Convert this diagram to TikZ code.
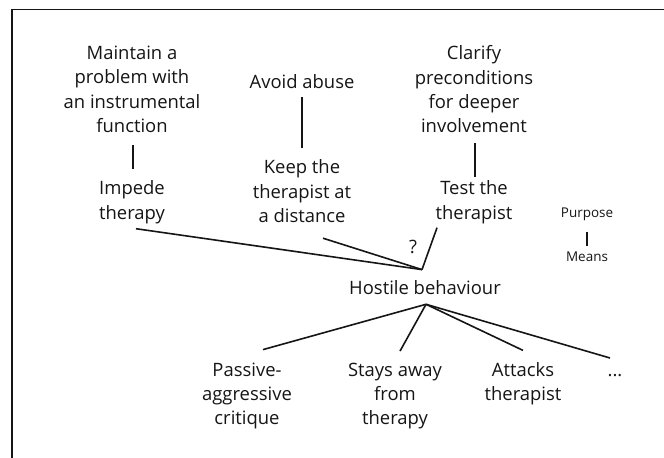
\documentclass[tikz,border=0pt]{standalone}
\usepackage{fontspec}
\setmainfont{Open Sans}
\usetikzlibrary{calc}
\definecolor{ink}{HTML}{151515}
\tikzset{
  lbl/.style={inner sep=0pt, outer sep=0pt, align=center, text=ink,
    font=\fontsize{18.5}{24.5}\selectfont},
  small/.style={inner sep=0pt, outer sep=0pt, align=center, text=ink,
    font=\fontsize{13.5}{16}\selectfont},
  conn/.style={draw=ink, line width=1.6bp},
  frame/.style={draw=ink, line width=1.4bp}
}
\begin{document}
\begin{tikzpicture}[x=1bp,y=-1bp]
\useasboundingbox (0,0) rectangle (664,458);
\draw[frame] (12,458) -- (12,9.3) -- (664,9.3);
% top row
\node[lbl] (maint) at (132,89.4) {Maintain a\\problem with\\an instrumental\\function};
\node[lbl] (avoid) at (302,81.7) {Avoid abuse};
\node[lbl] (clar) at (474,89.4) {Clarify\\preconditions\\for deeper\\involvement};
% middle row
\node[lbl] (imp) at (132,202.3) {Impede\\therapy};
\node[lbl] (keep) at (302,191.2) {Keep the\\therapist at\\a distance};
\node[lbl] (test) at (474,202.3) {Test the\\therapist};
\node[small] (purp) at (587,214.3) {Purpose};
\node[small] (means) at (587,257) {Means};
\node[lbl] (q) at (413,247) {?};
% hostile
\node[lbl] (host) at (425,287.7) {Hostile behaviour};
% bottom row
\node[lbl] (pass) at (247,396) {Passive-\\aggressive\\critique};
\node[lbl] (stays) at (395,396) {Stays away\\from\\therapy};
\node[lbl] (att) at (523,383.8) {Attacks\\therapist};
\node[lbl, anchor=base] (dots) at (615,376.5) {...};
% junctions
\coordinate (conv) at ($(host.north)+(-3,-11)$);
\coordinate (apex) at ($(host.south)+(1,9.5)$);
% vertical connectors
\draw[conn] ($(maint.south)+(1,12)$) -- ($(imp.north)+(1,-12)$);
\draw[conn] ($(avoid.south)+(0,8.5)$) -- ($(keep.north)+(0,-12)$);
\draw[conn] ($(clar.south)+(1,10)$) -- ($(test.north)+(1,-4)$);
\draw[conn, line width=1.3bp] ($(purp.south)+(0,11)$) -- ($(means.north)+(0,-6)$);
% converging connectors
\draw[conn] ($(imp.south)+(4,5)$) -- (conv);
\draw[conn] ($(keep.south)+(21,15.5)$) -- (conv);
\draw[conn] ($(test.south)+(-37,4)$) -- (conv);
% diverging connectors
\draw[conn] (apex) -- ($(pass.north)+(16,-13)$);
\draw[conn] (apex) -- ($(stays.north)+(5,-11.6)$);
\draw[conn] (apex) -- ($(att.north)+(0,-12)$);
\draw[conn] (apex) -- ($(dots.base)+(-5,-18.5)$);
\end{tikzpicture}
\end{document}
